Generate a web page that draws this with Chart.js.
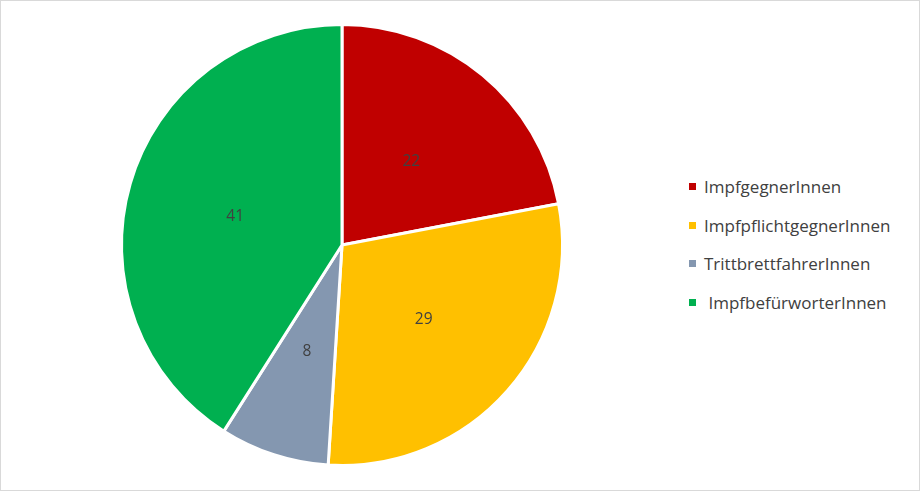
<!DOCTYPE html>
<html>
<head>
<meta charset="utf-8">
<script src="https://cdn.jsdelivr.net/npm/chart.js@4/dist/chart.umd.min.js"></script>
<style>
    html, body { margin: 0; padding: 0; background: #fff; }
    #wrap { position: relative; width: 918px; height: 489px; border: 1px solid #d9d9d9; overflow: hidden; }
    #pieBox { position: absolute; left: 0; top: 0; width: 682px; height: 489px; }
    #legend { position: absolute; left: 688px; top: 174px; font-family: 'Open Sans', sans-serif; font-size: 17px; color: #404040; }
    #legend div { height: 38.5px; line-height: 24px; white-space: pre; }
    #legend span { display: inline-block; width: 7px; height: 7px; margin-right: 8px; vertical-align: 3px; }
</style>
</head>
<body>
<div id="wrap">
    <div id="pieBox"><canvas id="pieChart"></canvas></div>
    <div id="legend"></div>
</div>
<script>
const categories = ['ImpfgegnerInnen', 'ImpfpflichtgegnerInnen', 'TrittbrettfahrerInnen', ' ImpfbefürworterInnen'];
const values = [22, 29, 8, 41];
const colors = ['#C00000', '#FFC000', '#8497B0', '#00B050'];

// value labels in the middle of each slice
const sliceLabels = {
    id: 'sliceLabels',
    afterDatasetsDraw(chart) {
        const ctx = chart.ctx;
        const meta = chart.getDatasetMeta(0);
        ctx.save();
        ctx.font = '15.5px "Open Sans", sans-serif';
        ctx.fillStyle = '#404040';
        ctx.textAlign = 'center';
        ctx.textBaseline = 'middle';
        meta.data.forEach(function(arc, i) {
            const p = arc.tooltipPosition();
            ctx.fillText(String(values[i]), p.x - 1, p.y + 2);
        });
        ctx.restore();
    }
};

const legendEl = document.getElementById('legend');
categories.forEach(function(name, i) {
    const row = document.createElement('div');
    const box = document.createElement('span');
    box.style.background = colors[i];
    row.appendChild(box);
    row.appendChild(document.createTextNode(name));
    legendEl.appendChild(row);
});

new Chart(document.getElementById('pieChart').getContext('2d'), {
    type: 'pie',
    data: {
        labels: categories,
        datasets: [{
            data: values,
            backgroundColor: colors,
            borderColor: '#ffffff',
            borderWidth: 3
        }]
    },
    options: {
        responsive: true,
        maintainAspectRatio: false,
        animation: false,
        layout: { padding: { top: 22, bottom: 23 } },
        plugins: {
            legend: { display: false },
            tooltip: { enabled: false }
        }
    },
    plugins: [sliceLabels]
});
</script>
</body>
</html>
